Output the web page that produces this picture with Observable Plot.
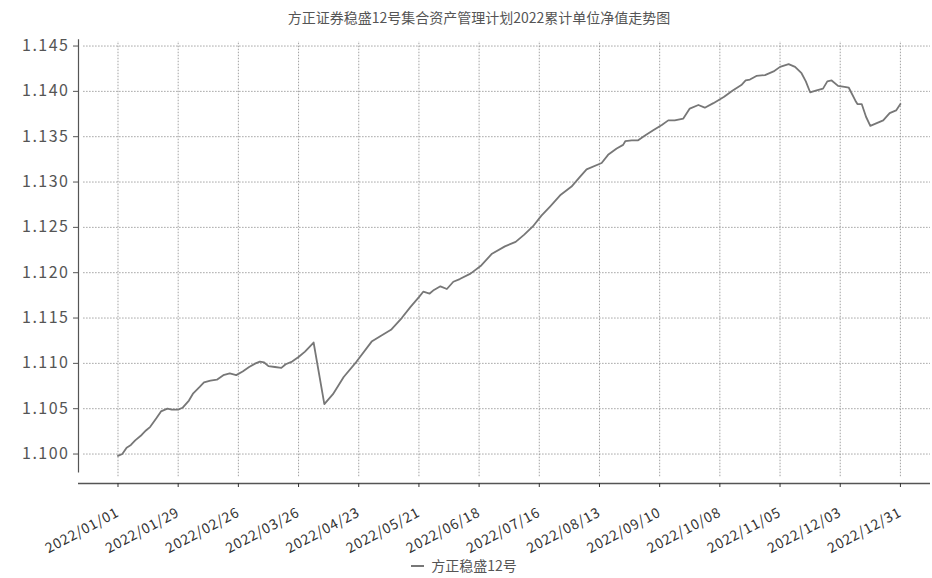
<!DOCTYPE html>
<html><head><meta charset="utf-8">
<script src="https://cdn.jsdelivr.net/npm/d3@7"></script>
<script src="https://cdn.jsdelivr.net/npm/@observablehq/plot@0.6"></script>
<style>
body{margin:0;background:#fff;width:932px;height:578px;overflow:hidden;font-family:"Noto Sans CJK SC","Noto Sans",sans-serif}
#title{height:34px;line-height:34px;text-align:center;font-size:14px;color:#555;padding-left:26px;box-sizing:border-box}
#chart svg{display:block}
#legend{height:23px;line-height:21px;text-align:center;font-size:14px;color:#555;padding-right:4px;box-sizing:border-box}
#legend .sw{display:inline-block;width:13px;height:0;border-top:2px solid #777;vertical-align:middle;margin-right:7px;position:relative;top:-1px}
</style></head><body>
<div id="title">方正证券稳盛12号集合资产管理计划2022累计单位净值走势图</div>
<div id="chart"></div>
<div id="legend"><span class="sw"></span><span id="lgtext"></span></div>
<script>
const seriesName = "方正稳盛12号";
const titleText = "方正证券稳盛12号集合资产管理计划2022累计单位净值走势图";
const dates = [
"2022-01-01","2022-01-03","2022-01-05","2022-01-07","2022-01-09","2022-01-12","2022-01-14","2022-01-16","2022-01-19","2022-01-21",
"2022-01-24","2022-01-26","2022-01-29","2022-01-31","2022-02-03","2022-02-05","2022-02-08","2022-02-10","2022-02-13","2022-02-16",
"2022-02-19","2022-02-22","2022-02-25","2022-02-28","2022-03-03","2022-03-06","2022-03-08","2022-03-10","2022-03-12","2022-03-15",
"2022-03-18","2022-03-20","2022-03-23","2022-03-26","2022-03-29","2022-04-02","2022-04-07","2022-04-11","2022-04-16","2022-04-22",
"2022-04-29","2022-05-03","2022-05-08","2022-05-13","2022-05-17","2022-05-21","2022-05-23","2022-05-26","2022-05-28","2022-05-31",
"2022-06-03","2022-06-06","2022-06-09","2022-06-14","2022-06-19","2022-06-24","2022-06-30","2022-07-05","2022-07-09","2022-07-13",
"2022-07-17","2022-07-21","2022-07-26","2022-07-31","2022-08-04","2022-08-07","2022-08-14","2022-08-17","2022-08-21","2022-08-24",
"2022-08-25","2022-08-28","2022-08-31","2022-09-03","2022-09-07","2022-09-11","2022-09-14","2022-09-17","2022-09-21","2022-09-24",
"2022-09-28","2022-10-01","2022-10-05","2022-10-10","2022-10-14","2022-10-18","2022-10-20","2022-10-22","2022-10-25","2022-10-29",
"2022-11-02","2022-11-05","2022-11-09","2022-11-12","2022-11-15","2022-11-17","2022-11-19","2022-11-22","2022-11-25","2022-11-27",
"2022-11-29","2022-12-02","2022-12-05","2022-12-07","2022-12-10","2022-12-11","2022-12-13","2022-12-15","2022-12-17","2022-12-20",
"2022-12-23","2022-12-26","2022-12-29","2022-12-31"
];
const values = [
1.0998,1.1000,1.1007,1.1010,1.1015,1.1021,1.1026,1.1030,1.1040,1.1047,
1.1050,1.1049,1.1049,1.1051,1.1059,1.1067,1.1074,1.1079,1.1081,1.1082,
1.1087,1.1089,1.1087,1.1091,1.1096,1.1100,1.1102,1.1101,1.1097,1.1096,
1.1095,1.1099,1.1102,1.1107,1.1113,1.1123,1.1055,1.1066,1.1085,1.1102,
1.1124,1.1130,1.1137,1.1150,1.1162,1.1173,1.1179,1.1177,1.1181,1.1185,
1.1182,1.1190,1.1193,1.1199,1.1208,1.1221,1.1229,1.1234,1.1242,1.1251,
1.1263,1.1273,1.1286,1.1295,1.1306,1.1314,1.1321,1.1330,1.1337,1.1341,
1.1345,1.1346,1.1346,1.1351,1.1357,1.1363,1.1368,1.1368,1.1370,1.1381,
1.1385,1.1382,1.1387,1.1394,1.1401,1.1407,1.1412,1.1413,1.1417,1.1418,
1.1422,1.1427,1.1430,1.1427,1.1420,1.1411,1.1399,1.1401,1.1403,1.1411,
1.1412,1.1406,1.1405,1.1404,1.1390,1.1386,1.1386,1.1372,1.1362,1.1365,
1.1368,1.1376,1.1379,1.1386
];
const tickLabels = ["2022/01/01","2022/01/29","2022/02/26","2022/03/26","2022/04/23","2022/05/21","2022/06/18",
"2022/07/16","2022/08/13","2022/09/10","2022/10/08","2022/11/05","2022/12/03","2022/12/31"];
const yTicks = [1.100,1.105,1.110,1.115,1.120,1.125,1.130,1.135,1.140,1.145];

document.getElementById("title").textContent = titleText;
document.getElementById("lgtext").textContent = seriesName;

const parseD = d3.utcParse("%Y-%m-%d");
const parseT = d3.utcParse("%Y/%m/%d");
const data = dates.map((d, i) => ({date: parseD(d), value: values[i]}));
const tickDates = tickLabels.map(parseT);
const xDomain = [new Date(Date.UTC(2021, 11, 13, 15)), new Date(Date.UTC(2023, 0, 14))];
const yDomain = [1.09675, 1.1455];
const gridLeft = new Date(Date.UTC(2021, 11, 16));

const chart = Plot.plot({
  width: 932, height: 521,
  marginLeft: 78, marginRight: 2, marginTop: 7, marginBottom: 72,
  x: {type: "utc", domain: xDomain},
  y: {domain: yDomain},
  style: {background: "white", fontFamily: "'Noto Sans CJK SC','Noto Sans',sans-serif", overflow: "visible"},
  marks: [
    Plot.ruleY(yTicks, {x1: gridLeft, x2: xDomain[1], stroke: "#8a8a8a", strokeWidth: 0.8, strokeDasharray: "1.5,1.5"}),
    Plot.ruleX(tickDates, {y1: 1.0975, y2: 1.1455, stroke: "#8a8a8a", strokeWidth: 0.8, strokeDasharray: "1.5,1.5"}),
    Plot.ruleX([xDomain[0]], {y1: 1.0979, y2: 1.1457, stroke: "#555", strokeWidth: 1.2}),
    Plot.ruleY([yDomain[0]], {stroke: "#555", strokeWidth: 1.5}),
    Plot.axisY({ticks: yTicks, tickFormat: d => d.toFixed(3), tickSize: 5, tickPadding: 4, fontSize: 16, color: "#555", label: null}),
    Plot.axisX({ticks: tickDates, tickFormat: d3.utcFormat("%Y/%m/%d"), tickRotate: -28, tickSize: 4, tickPadding: 24, fontSize: 14, color: "#333", label: null}),
    Plot.lineY(data, {x: "date", y: "value", stroke: "#777", strokeWidth: 1.8, curve: "linear"})
  ]
});
chart.querySelectorAll("g[aria-label='y-axis tick label'] text").forEach(t => t.setAttribute("letter-spacing", "1.5"));
chart.querySelectorAll("g[aria-label='x-axis tick label'] text").forEach(t => t.setAttribute("letter-spacing", "0.8"));
document.getElementById("chart").appendChild(chart);
</script>
</body></html>
